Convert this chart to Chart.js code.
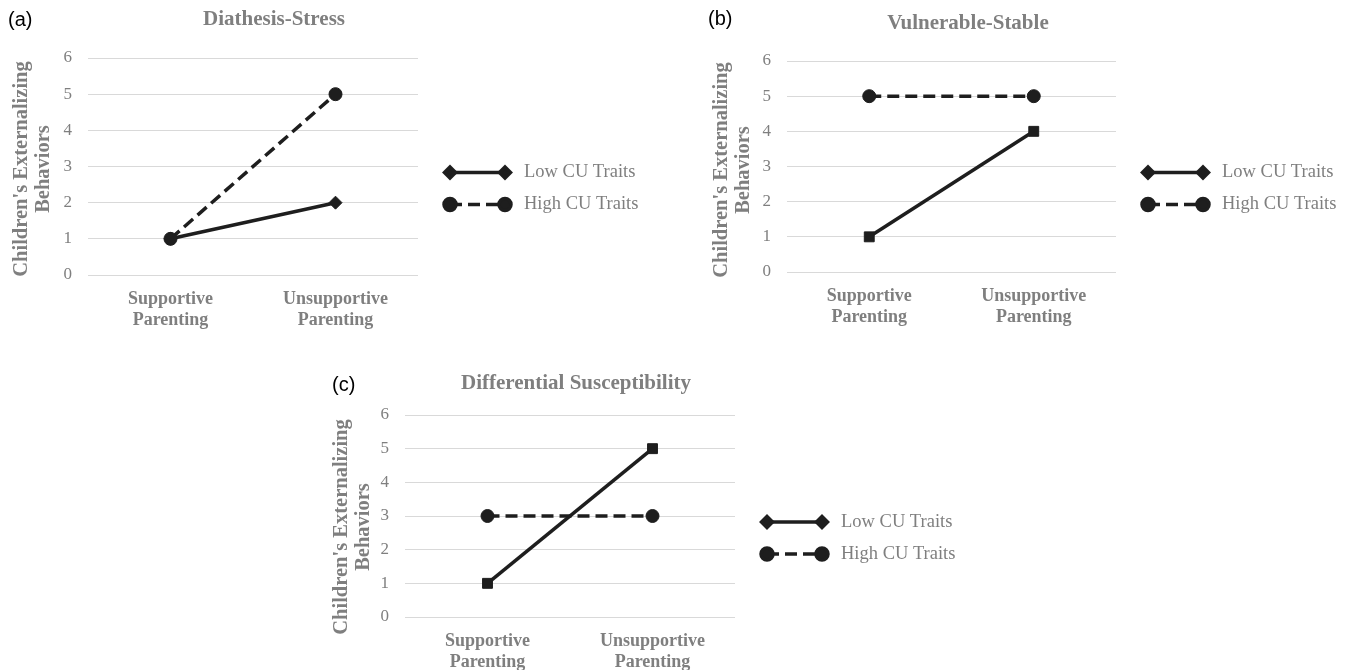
<!DOCTYPE html>
<html>
<head>
<meta charset="utf-8">
<title>CU traits and parenting</title>
<script src="https://cdn.jsdelivr.net/npm/chart.js@4.4.0/dist/chart.umd.min.js"></script>
<style>
  html, body { margin: 0; padding: 0; background: #fff; }
  body { width: 1353px; height: 670px; position: relative; overflow: hidden; }
  canvas { position: absolute; }
</style>
</head>
<body>
<canvas id="chartA" width="690" height="335" style="left:0;top:0"></canvas>
<canvas id="chartB" width="653" height="335" style="left:700px;top:0"></canvas>
<canvas id="chartC" width="700" height="330" style="left:320px;top:340px"></canvas>
<script>
// --- data ---
const categories = [['Supportive', 'Parenting'], ['Unsupportive', 'Parenting']];
const yTicks = [0, 1, 2, 3, 4, 5, 6];
const seriesNames = ['Low CU Traits', 'High CU Traits'];
const panelTags = ['(a)', '(b)', '(c)'];
const panelTitles = ['Diathesis-Stress', 'Vulnerable-Stable', 'Differential Susceptibility'];
const yAxisTitle = ["Children's Externalizing", 'Behaviors'];

const lowA = [1, 2];
const highA = [1, 5];
const lowB = [1, 4];
const highB = [5, 5];
const lowC = [1, 5];
const highC = [3, 3];

// --- styling ---
const ink = '#1e1e1e';
const gray = '#7f7f7f';
const gridGray = '#d9d9d9';
const serif = '"Liberation Serif", "Times New Roman", serif';

// title, panel tag, y title and the line+marker legend
const decorations = {
  id: 'decorations',
  afterDraw(chart, args, opts) {
    const { ctx, chartArea } = chart;
    ctx.save();
    ctx.textBaseline = 'middle';

    ctx.fillStyle = '#000';
    ctx.font = '20px "Liberation Sans", Arial, sans-serif';
    ctx.textAlign = 'left';
    ctx.fillText(opts.tag, opts.tagX, opts.tagY);

    ctx.fillStyle = gray;
    ctx.font = 'bold 21px ' + serif;
    ctx.textAlign = 'center';
    ctx.fillText(opts.title, opts.titleX, opts.titleY);

    // rotated y axis title, two lines
    ctx.save();
    ctx.translate(0, opts.yTitleY);
    ctx.rotate(-Math.PI / 2);
    ctx.font = 'bold 20.5px ' + serif;
    ctx.fillText(yAxisTitle[0], 0, 22);
    ctx.fillText(yAxisTitle[1], 0, 44);
    ctx.restore();

    const x1 = chartArea.right + 32;
    const x2 = chartArea.right + 87;
    const tx = chartArea.right + 106;
    const cy = (chartArea.top + chartArea.bottom) / 2;
    const rows = [cy + 6, cy + 38];

    seriesNames.forEach((name, i) => {
      const ds = chart.data.datasets.find(d => d.label === name);
      const y = rows[i];
      ctx.strokeStyle = ink;
      ctx.fillStyle = ink;
      ctx.lineWidth = ds.borderWidth;
      ctx.setLineDash(ds.borderDash || []);
      ctx.beginPath();
      ctx.moveTo(x1, y);
      ctx.lineTo(x2, y);
      ctx.stroke();
      ctx.setLineDash([]);
      const pt = { pointStyle: ds.legendMarker, radius: ds.legendRadius, borderWidth: 1, rotation: 0 };
      Chart.helpers.drawPoint(ctx, pt, x1, y);
      Chart.helpers.drawPoint(ctx, pt, x2, y);

      ctx.fillStyle = gray;
      ctx.font = '18.5px ' + serif;
      ctx.textAlign = 'left';
      ctx.fillText(name, tx, y);
    });
    ctx.restore();
  }
};

function makeChart(id, idx, low, high, lowStyle, lowRadius, box, marks) {
  new Chart(document.getElementById(id), {
    type: 'line',
    data: {
      labels: categories,
      datasets: [
        {
          label: seriesNames[1],
          data: high,
          order: 0,
          borderColor: ink,
          backgroundColor: ink,
          borderWidth: 3.5,
          borderDash: [12, 6],
          pointStyle: 'circle',
          pointRadius: 6.5,
          pointBorderWidth: 1,
          legendMarker: 'circle',
          legendRadius: 6
        },
        {
          label: seriesNames[0],
          data: low,
          order: 1,
          borderColor: ink,
          backgroundColor: ink,
          borderWidth: 3.5,
          pointStyle: lowStyle,
          pointRadius: lowRadius,
          pointBorderWidth: 1,
          legendMarker: 'rectRot',
          legendRadius: 5.5
        }
      ]
    },
    options: {
      responsive: false,
      animation: false,
      layout: { padding: { left: 0, right: box.r, top: box.t, bottom: 0 } },
      scales: {
        x: {
          offset: true,
          grid: { display: false },
          border: { display: false },
          ticks: {
            color: gray,
            padding: 6,
            maxRotation: 0,
            font: { family: serif, size: 18, weight: 'bold', lineHeight: 1.17 }
          },
          afterFit: s => { s.height = box.b; }
        },
        y: {
          min: yTicks[0],
          max: yTicks[yTicks.length - 1],
          border: { display: false },
          grid: { color: gridGray, lineWidth: 1, drawTicks: false },
          ticks: {
            stepSize: 1,
            color: gray,
            padding: 16,
            font: { family: serif, size: 17 }
          },
          afterFit: s => { s.width = box.l; }
        }
      },
      plugins: {
        legend: { display: false },
        tooltip: { enabled: false },
        decorations: {
          tag: panelTags[idx],
          title: panelTitles[idx],
          tagX: marks.tag[0], tagY: marks.tag[1],
          titleX: marks.title[0], titleY: marks.title[1],
          yTitleY: marks.yTitle
        }
      }
    },
    plugins: [decorations]
  });
}

makeChart('chartA', 0, lowA, highA, 'rectRot', 6.5,
  { l: 88, r: 272, t: 58, b: 60 }, { tag: [8, 20], title: [274, 20], yTitle: 169 });
makeChart('chartB', 1, lowB, highB, 'rect', 7,
  { l: 87, r: 237, t: 61, b: 63 }, { tag: [8, 19], title: [268, 24], yTitle: 170 });
makeChart('chartC', 2, lowC, highC, 'rect', 7,
  { l: 85, r: 285, t: 75, b: 53 }, { tag: [12, 45], title: [256, 44], yTitle: 187 });
</script>
</body>
</html>
